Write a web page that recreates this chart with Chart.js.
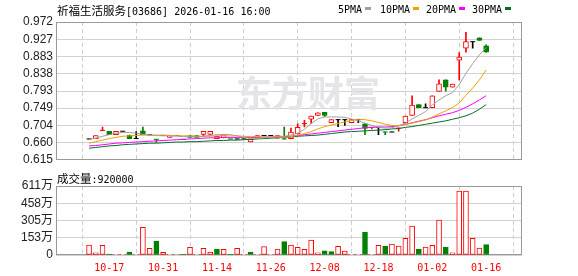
<!DOCTYPE html>
<html>
<head>
<meta charset="utf-8">
<script src="https://cdn.jsdelivr.net/npm/chart.js@4/dist/chart.umd.min.js"></script>
<style>
body { margin: 0; background: #fff; width: 578px; height: 276px; overflow: hidden; position: relative; font-family: "Noto Sans CJK SC", sans-serif; }
canvas { position: absolute; left: 0; }
#price { top: 0; }
#vol { top: 170px; }
.t { position: absolute; white-space: nowrap; color: #000; font-size: 11.5px; line-height: 14px; }
.m { font-family: "DejaVu Sans Mono", monospace; font-size: 10px; }
.sw { position: absolute; width: 6px; height: 3px; }
</style>
</head>
<body>
<canvas id="price" width="578" height="170"></canvas>
<canvas id="vol" width="578" height="106"></canvas>
<div class="t" style="left:57px;top:3px">祈福生活服务<span class="m">[03686] 2026-01-16 16:00</span></div>
<div class="t m" style="left:338px;top:3px">5PMA</div><div class="sw" style="left:365px;top:7px;background:#a0a0a0"></div>
<div class="t m" style="left:380px;top:3px">10PMA</div><div class="sw" style="left:413px;top:7px;background:#f0a000"></div>
<div class="t m" style="left:426px;top:3px">20PMA</div><div class="sw" style="left:459px;top:7px;background:#ff00ff"></div>
<div class="t m" style="left:472px;top:3px">30PMA</div><div class="sw" style="left:505px;top:7px;background:#006e2a"></div>
<div class="t" style="left:57px;top:171px">成交量<span class="m">:920000</span></div>
<script>
const dates = ['10-14','10-15','10-16','10-17','10-20','10-21','10-22','10-23','10-24','10-27','10-28','10-31',
  '11-03','11-04','11-05','11-06','11-07','11-10','11-11','11-14','11-17','11-18','11-19','11-20','11-21','11-24','11-25','11-26',
  '11-27','11-28','12-01','12-02','12-03','12-04','12-05','12-08','12-09','12-10','12-11','12-12','12-15','12-16','12-17','12-18',
  '12-19','12-22','12-23','12-24','12-29','12-30','12-31','01-02','01-05','01-06','01-07','01-08','01-09','01-12','01-13','01-16'];
const tickDates = ['10-17','10-31','11-14','11-26','12-08','12-18','01-02','01-16'];

const opens  = [0.669,0.670,0.691,0.689,0.680,0.689,0.679,0.670,0.690,0.680,0.668,0.678,0.673,0.678,0.668,0.678,0.678,0.681,0.681,0.670,
  0.672,0.669,0.669,0.669,0.661,0.673,0.678,0.678,0.671,0.669,0.670,0.682,0.709,0.720,0.730,0.738,0.711,0.719,0.719,0.711,
  0.719,0.708,0.699,0.699,0.687,0.687,0.697,0.711,0.730,0.758,0.750,0.750,0.792,0.822,0.803,0.873,0.904,0.921,0.931,0.910];
const highs  = [0.669,0.678,0.700,0.689,0.689,0.689,0.679,0.688,0.700,0.680,0.668,0.678,0.678,0.678,0.668,0.678,0.678,0.689,0.689,0.676,
  0.680,0.669,0.669,0.669,0.668,0.678,0.678,0.678,0.678,0.700,0.697,0.708,0.717,0.728,0.737,0.738,0.719,0.719,0.719,0.719,
  0.719,0.709,0.699,0.699,0.687,0.687,0.697,0.728,0.781,0.758,0.760,0.781,0.822,0.822,0.811,0.893,0.945,0.921,0.931,0.913];
const lows   = [0.669,0.670,0.691,0.680,0.680,0.689,0.670,0.670,0.680,0.680,0.660,0.678,0.673,0.678,0.668,0.673,0.673,0.676,0.681,0.670,
  0.672,0.669,0.669,0.669,0.661,0.673,0.678,0.678,0.671,0.669,0.670,0.682,0.700,0.709,0.730,0.727,0.711,0.701,0.704,0.711,
  0.711,0.680,0.695,0.680,0.680,0.687,0.689,0.711,0.730,0.750,0.750,0.750,0.792,0.793,0.803,0.822,0.894,0.904,0.924,0.894];
const closes = [0.669,0.678,0.691,0.680,0.689,0.689,0.670,0.670,0.680,0.680,0.668,0.678,0.678,0.678,0.668,0.673,0.673,0.689,0.689,0.676,
  0.680,0.669,0.669,0.669,0.668,0.678,0.678,0.678,0.678,0.669,0.687,0.699,0.709,0.728,0.737,0.730,0.719,0.719,0.719,0.719,
  0.719,0.696,0.699,0.699,0.687,0.687,0.697,0.728,0.757,0.750,0.750,0.781,0.812,0.803,0.811,0.881,0.921,0.921,0.924,0.894];
const prevClose0 = 0.669;

const volumes = [885000,200000,860000,90000,60000,60000,260000,60000,2450000,590000,1240000,240000,60000,60000,60000,680000,60000,590000,260000,530000,
  500000,60000,590000,60000,260000,60000,740000,60000,530000,1180000,880000,680000,500000,1330000,200000,380000,300000,770000,350000,60000,
  60000,2040000,60000,860000,800000,970000,800000,1480000,2570000,530000,710000,860000,3100000,710000,200000,5670000,5670000,1480000,620000,920000];

const ma5  = [0.668,0.671,0.676,0.680,0.684,0.686,0.686,0.684,0.681,0.679,0.678,0.677,0.677,0.676,0.675,0.675,0.674,0.676,0.678,0.680,
  0.681,0.680,0.677,0.673,0.670,0.671,0.672,0.674,0.676,0.676,0.679,0.684,0.694,0.709,0.721,0.726,0.726,0.726,0.725,0.721,
  0.716,0.710,0.704,0.699,0.697,0.698,0.703,0.710,0.721,0.730,0.740,0.757,0.770,0.781,0.789,0.810,0.839,0.864,0.887,0.906];
const ma10 = [0.658,0.662,0.666,0.670,0.673,0.676,0.677,0.678,0.679,0.679,0.679,0.679,0.678,0.678,0.677,0.677,0.676,0.676,0.676,0.677,
  0.677,0.677,0.677,0.676,0.675,0.675,0.674,0.674,0.674,0.673,0.675,0.679,0.683,0.688,0.695,0.701,0.705,0.709,0.713,0.717,
  0.720,0.719,0.716,0.712,0.707,0.704,0.704,0.706,0.710,0.714,0.718,0.726,0.734,0.742,0.750,0.762,0.782,0.801,0.822,0.848];
const ma20 = [0.651,0.652,0.654,0.656,0.658,0.659,0.660,0.661,0.662,0.663,0.664,0.665,0.666,0.667,0.668,0.669,0.670,0.671,0.672,0.672,
  0.673,0.673,0.673,0.673,0.673,0.673,0.674,0.674,0.674,0.675,0.676,0.678,0.680,0.682,0.684,0.686,0.688,0.690,0.692,0.694,
  0.696,0.698,0.699,0.700,0.700,0.701,0.703,0.707,0.711,0.715,0.719,0.724,0.729,0.733,0.737,0.743,0.751,0.760,0.770,0.781];
const ma30 = [0.645,0.647,0.649,0.651,0.652,0.654,0.655,0.656,0.657,0.658,0.658,0.659,0.660,0.661,0.661,0.662,0.662,0.663,0.664,0.665,
  0.665,0.666,0.666,0.667,0.668,0.669,0.670,0.671,0.672,0.673,0.674,0.676,0.677,0.678,0.679,0.681,0.683,0.685,0.687,0.688,
  0.689,0.690,0.691,0.692,0.693,0.695,0.696,0.699,0.701,0.704,0.707,0.710,0.713,0.716,0.720,0.724,0.729,0.736,0.746,0.758];

const priceTicks = [0.615,0.660,0.704,0.749,0.793,0.838,0.883,0.927,0.972];
const volMax = 6110000;
const volTicks = [0, 1530000, 3050000, 4580000, 6110000];

const RED = '#ff0000', GREEN = '#008000', BLACK = '#000000';
const tickIdx = tickDates.map(d => dates.indexOf(d));

function prevOf(i) { return i === 0 ? prevClose0 : closes[i - 1]; }
function candleColor(i) {
  if (closes[i] > opens[i]) return RED;
  if (closes[i] < opens[i]) return GREEN;
  const p = prevOf(i);
  return closes[i] > p ? RED : closes[i] < p ? GREEN : BLACK;
}
const colors = closes.map((c, i) => candleColor(i));
const volColors = closes.map((c, i) => c >= prevOf(i) ? RED : GREEN);

const frame = {
  id: 'frame',
  beforeDatasetsDraw(chart) {
    const { ctx, chartArea: a } = chart;
    ctx.save();
    ctx.strokeStyle = '#999';
    ctx.lineWidth = 1;
    ctx.strokeRect(Math.round(a.left) + 0.5, Math.round(a.top) + 0.5, Math.round(a.right - a.left) - 1, Math.round(a.bottom - a.top) - 1);
    ctx.restore();
  }
};
const watermark = {
  id: 'watermark',
  beforeDatasetsDraw(chart) {
    const { ctx } = chart;
    ctx.save();
    ctx.fillStyle = '#e4e4e9';
    ctx.font = 'bold 36px "Noto Sans CJK SC"';
    ctx.textBaseline = 'middle';
    ctx.fillText('东方财富', 236, 93);
    ctx.restore();
  }
};

const xScale = (showLabels) => ({
  type: 'linear',
  min: -0.585,
  max: 60.0,
  afterBuildTicks: s => { s.ticks = tickIdx.map(v => ({ value: v })); },
  grid: { color: '#cfcfcf', drawTicks: false },
  border: { display: false, dash: [4, 3] },
  ticks: {
    display: showLabels,
    autoSkip: false,
    maxRotation: 0,
    padding: 7,
    color: '#ff0000',
    font: { family: '"DejaVu Sans Mono"', size: 10 },
    callback: v => dates[v]
  },
  afterFit: s => { s.height = showLabels ? 21 : 0; }
});
const yFont = { family: '"Liberation Sans", "Noto Sans CJK SC"', size: 12 };

new Chart(document.getElementById('price'), {
  data: {
    datasets: [
      { type: 'line', data: ma5.map((v, i) => ({ x: i, y: v })), borderColor: '#a0a0a0', borderWidth: 1, pointRadius: 0, order: 1 },
      { type: 'line', data: ma10.map((v, i) => ({ x: i, y: v })), borderColor: '#f0a000', borderWidth: 1, pointRadius: 0, order: 1 },
      { type: 'line', data: ma20.map((v, i) => ({ x: i, y: v })), borderColor: '#ff00ff', borderWidth: 1, pointRadius: 0, order: 1 },
      { type: 'line', data: ma30.map((v, i) => ({ x: i, y: v })), borderColor: '#006e2a', borderWidth: 1, pointRadius: 0, order: 1 },
      { type: 'bar', data: closes.map((c, i) => ({ x: i, y: [lows[i], highs[i]] })), backgroundColor: colors,
        barThickness: 1, grouped: false, order: 3 },
      { type: 'bar', data: closes.map((c, i) => ({ x: i, y: [Math.min(opens[i], c), Math.max(opens[i], c)] })),
        backgroundColor: colors.map(c => c === RED ? '#ffffff' : c), borderColor: colors, borderWidth: 1, borderSkipped: false,
        barThickness: 5, grouped: false, order: 2 },
      { type: 'line', showLine: false, data: closes.map((c, i) => ({ x: i, y: c, col: colors[i] })).filter(p => opens[p.x] === p.y),
        pointStyle: 'line', pointRadius: 2.5, pointBorderWidth: 1, pointBorderColor: ctx => ctx.raw ? ctx.raw.col : BLACK, order: 2 }
    ]
  },
  options: {
    responsive: false,
    animation: false,
    layout: { padding: { top: 22, right: 56, bottom: 5, left: 0 } },
    plugins: { legend: { display: false }, tooltip: { enabled: false } },
    scales: {
      x: xScale(false),
      y: {
        min: 0.615, max: 0.972,
        afterBuildTicks: s => { s.ticks = priceTicks.map(v => ({ value: v })); },
        grid: { color: '#d2d2d2', drawTicks: false },
        border: { display: false },
        ticks: { autoSkip: false, padding: 3, color: '#222', font: yFont, callback: v => v.toFixed(3) },
        afterFit: s => { s.width = 56; }
      }
    }
  },
  plugins: [frame, watermark]
});

new Chart(document.getElementById('vol'), {
  type: 'bar',
  data: {
    datasets: [{
      data: volumes.map((v, i) => ({ x: i, y: v })),
      backgroundColor: volColors.map(c => c === RED ? '#ffffff' : c),
      borderColor: volColors, borderWidth: 1, borderSkipped: false,
      barThickness: 5, grouped: false
    }]
  },
  options: {
    responsive: false,
    animation: false,
    layout: { padding: { top: 16, right: 56, bottom: 0, left: 0 } },
    plugins: { legend: { display: false }, tooltip: { enabled: false } },
    scales: {
      x: xScale(true),
      y: {
        min: 0, max: volMax,
        afterBuildTicks: s => { s.ticks = volTicks.map(v => ({ value: v })); },
        grid: { color: '#d2d2d2', drawTicks: false },
        border: { display: false },
        ticks: { autoSkip: false, padding: 3, color: '#222', font: yFont, callback: v => v === 0 ? '0' : Math.round(v / 10000) + '万' },
        afterFit: s => { s.width = 56; }
      }
    }
  },
  plugins: [frame]
});
</script>
</body>
</html>
